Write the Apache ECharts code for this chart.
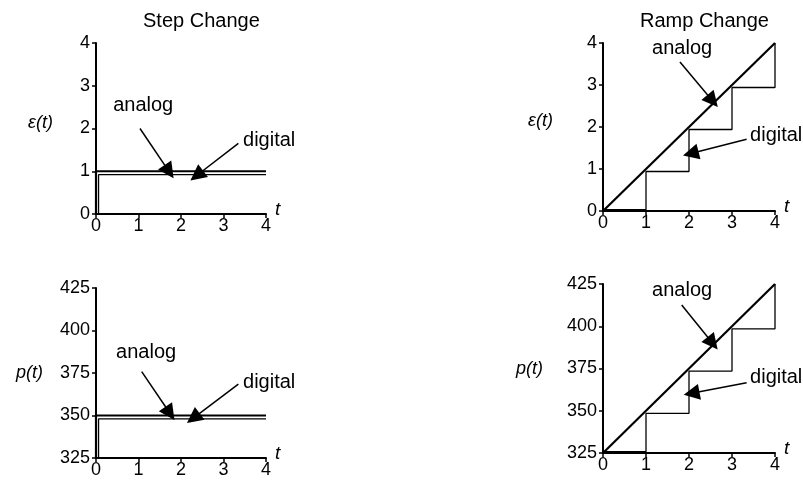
<!DOCTYPE html>
<html lang="en">
<head>
    <meta charset="UTF-8">
    <title>Step and Ramp Change</title>
    <script src="https://cdn.jsdelivr.net/npm/echarts/dist/echarts.min.js"></script>
    <style>
        html, body { margin: 0; padding: 0; background: #fff; }
        #main { width: 803px; height: 483px; }
    </style>
</head>
<body>
<div id="main"></div>
<script>
    // step change data
    const stepAnalogT = [0, 0, 4];
    const stepAnalogE = [0, 1, 1];
    const stepAnalogP = [325, 350, 350];
    const stepDigitalT = [0, 0.06, 0.06, 4];
    const stepDigitalE = [0, 0, 0.92, 0.92];
    const stepDigitalP = [325, 325, 348, 348];

    // ramp change data
    const rampAnalogT = [0, 4];
    const rampAnalogE = [0, 4];
    const rampAnalogP = [325, 425];
    const rampDigitalT = [0, 1, 1, 2, 2, 3, 3, 4, 4];
    const rampDigitalE = [0.03, 0.03, 0.94, 0.94, 1.94, 1.94, 2.94, 2.94, 4];
    const rampDigitalP = [325.75, 325.75, 348.5, 348.5, 373.5, 373.5, 398.5, 398.5, 425];

    // annotation labels (analog: centre, digital: left edge) and arrows [tail, tip] per panel
    const panelLabels = [
        { analog: [1.11, 2.55], digital: [3.46, 1.73] },
        { analog: [1.84, 3.88], digital: [3.42, 1.79] },
        { analog: [1.18, 386.8], digital: [3.46, 369.7] },
        { analog: [1.84, 421.4], digital: [3.42, 369.4] }
    ];
    const panelArrows = [
        { analog: [[1.035, 2.0], [1.72, 0.99]], digital: [[3.35, 1.65], [2.37, 0.90]] },
        { analog: [[1.79, 3.55], [2.55, 2.62]], digital: [[3.34, 1.71], [2.04, 1.37]] },
        { analog: [[1.075, 375.8], [1.74, 351.3]], digital: [[3.35, 368.5], [2.29, 348.4]] },
        { analog: [[1.83, 412.6], [2.55, 389.9]], digital: [[3.34, 366.6], [2.06, 360.3]] }
    ];

    const FONT = "'Liberation Sans', Arial, sans-serif";
    const zip = (a, b) => a.map((v, i) => [v, b[i]]);

    const grids = [
        { left: 96, top: 43, width: 170, height: 171 },
        { left: 603, top: 43, width: 172, height: 168 },
        { left: 96, top: 288, width: 170, height: 170 },
        { left: 603, top: 284, width: 172, height: 169 }
    ];

    const yNames = ['ε(t)', 'ε(t)', 'p(t)', 'p(t)'];
    const yGaps = [43, 50, 53, 60];

    const xAxes = grids.map((g, i) => ({
        gridIndex: i,
        type: 'value',
        min: 0, max: 4, interval: 1,
        name: 't',
        nameLocation: 'end',
        nameGap: 9,
        nameTextStyle: { fontFamily: FONT, fontSize: 19, fontStyle: 'italic', color: '#000', verticalAlign: 'bottom', padding: [0, 0, -5, 0] },
        axisLine: { show: true, onZero: false, lineStyle: { color: '#000', width: 2 } },
        axisTick: { show: true, length: 4, lineStyle: { color: '#000', width: 1.5 } },
        axisLabel: { margin: 3, fontFamily: FONT, fontSize: 18, color: '#000' },
        splitLine: { show: false }
    }));

    const yAxes = grids.map((g, i) => ({
        gridIndex: i,
        type: 'value',
        min: i < 2 ? 0 : 325,
        max: i < 2 ? 4 : 425,
        interval: i < 2 ? 1 : 25,
        name: yNames[i],
        nameLocation: 'middle',
        nameRotate: 0,
        nameGap: yGaps[i],
        nameTextStyle: {
            fontFamily: FONT, fontSize: 18, fontStyle: 'italic', color: '#000',
            verticalAlign: i < 2 ? 'bottom' : 'middle',
            padding: [0, 0, i < 2 ? -3 : 0, 0]
        },
        axisLine: { show: true, onZero: false, lineStyle: { color: '#000', width: 2 } },
        axisTick: { show: true, length: 4, lineStyle: { color: '#000', width: 1.5 } },
        axisLabel: { margin: 6, fontFamily: FONT, fontSize: 18, color: '#000' },
        splitLine: { show: false }
    }));

    function arrowLines(i) {
        const a = panelArrows[i];
        return {
            silent: true,
            symbol: ['none', 'triangle'],
            symbolSize: 16,
            label: { show: false },
            itemStyle: { color: '#000' },
            lineStyle: { color: '#000', width: 1.5, type: 'solid' },
            data: [
                [{ coord: a.analog[0] }, { coord: a.analog[1] }],
                [{ coord: a.digital[0] }, { coord: a.digital[1] }]
            ]
        };
    }

    function textPoints(i) {
        const l = panelLabels[i];
        const lbl = { show: true, fontFamily: FONT, fontSize: 20, color: '#000', position: 'inside' };
        return {
            silent: true,
            symbol: 'rect',
            symbolSize: 1,
            itemStyle: { color: 'rgba(0,0,0,0)' },
            data: [
                { coord: l.analog, label: Object.assign({ formatter: 'analog' }, lbl) },
                { coord: l.digital, label: Object.assign({ formatter: 'digital', align: 'left' }, lbl) }
            ]
        };
    }

    const analogData = [
        zip(stepAnalogT, stepAnalogE),
        zip(rampAnalogT, rampAnalogE),
        zip(stepAnalogT, stepAnalogP),
        zip(rampAnalogT, rampAnalogP)
    ];
    const digitalData = [
        zip(stepDigitalT, stepDigitalE),
        zip(rampDigitalT, rampDigitalE),
        zip(stepDigitalT, stepDigitalP),
        zip(rampDigitalT, rampDigitalP)
    ];

    const series = [];
    for (let i = 0; i < 4; i++) {
        series.push({
            name: 'digital',
            type: 'line',
            xAxisIndex: i, yAxisIndex: i,
            data: digitalData[i],
            showSymbol: false,
            clip: false,
            lineStyle: { color: '#000', width: 1.3 }
        });
        series.push({
            name: 'analog',
            type: 'line',
            xAxisIndex: i, yAxisIndex: i,
            data: analogData[i],
            showSymbol: false,
            clip: false,
            itemStyle: { color: '#000' },
            lineStyle: { color: '#000', width: 2.2 },
            markLine: arrowLines(i),
            markPoint: textPoints(i)
        });
    }

    const chart = echarts.init(document.getElementById('main'));
    chart.setOption({
        animation: false,
        backgroundColor: '#fff',
        title: [
            { text: 'Step Change', left: 138, top: 6, textStyle: { fontFamily: FONT, fontSize: 20, fontWeight: 'normal', color: '#000' } },
            { text: 'Ramp Change', left: 635, top: 6, textStyle: { fontFamily: FONT, fontSize: 20, fontWeight: 'normal', color: '#000' } }
        ],
        grid: grids,
        xAxis: xAxes,
        yAxis: yAxes,
        series: series
    });
</script>
</body>
</html>
